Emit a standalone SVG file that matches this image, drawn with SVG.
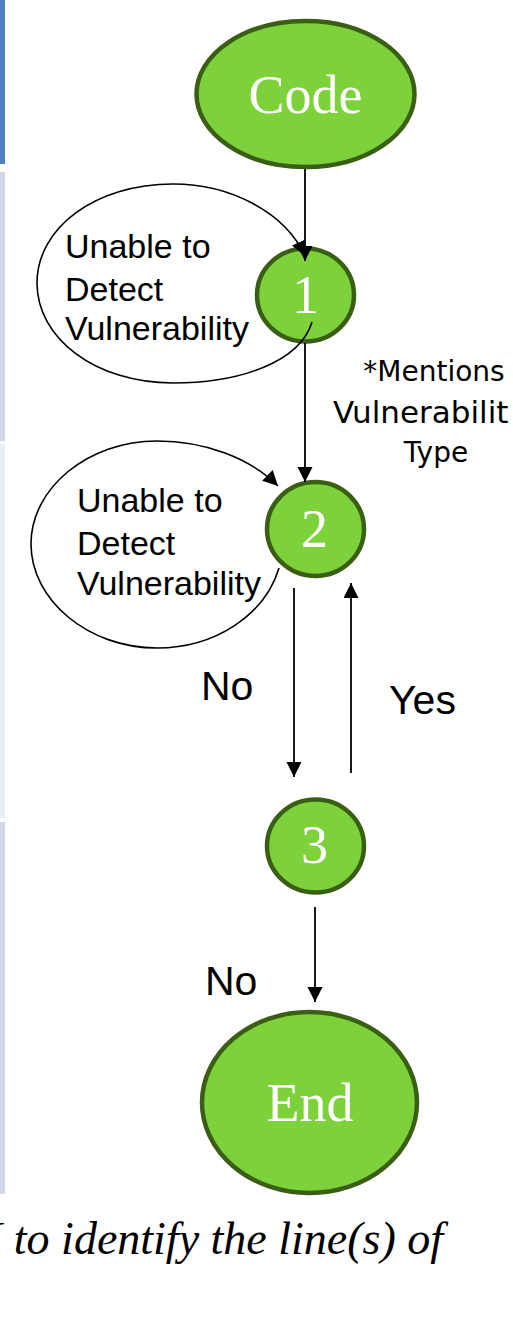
<svg xmlns="http://www.w3.org/2000/svg" width="513" height="1319" viewBox="0 0 513 1319">
<style>
.node{fill:#7dd13b;stroke:#3a5f14;stroke-width:4.5}
.nt{font-family:"Liberation Serif","Times New Roman",serif;font-size:54px;fill:#ffffff;text-anchor:middle}
.lt{font-family:"Liberation Sans",Arial,sans-serif;font-size:34px;fill:#000}
.mt{font-family:"DejaVu Sans",Verdana,sans-serif;fill:#000;text-anchor:middle}
.yn{font-family:"Liberation Sans",Arial,sans-serif;font-size:41px;fill:#000}
.edge{fill:none;stroke:#000;stroke-width:1.8}
.loop{fill:none;stroke:#000;stroke-width:1.6}
.cap{font-family:"Liberation Serif","Times New Roman",serif;font-style:italic;font-size:46px;fill:#000}
</style>
<defs>
<marker id="ah" markerUnits="userSpaceOnUse" markerWidth="16" markerHeight="16" refX="15" refY="7.5" orient="auto">
<path d="M0,0 L15,7.5 L0,15 z" fill="#000"/>
</marker>
</defs>
<g id="side-panels">
<rect x="0" y="0" width="5" height="164" fill="#4f81bd"/>
<rect x="0" y="172" width="5" height="269" fill="#d0d8e8"/>
<rect x="0" y="444" width="5" height="374" fill="#e9edf4"/>
<rect x="0" y="822" width="5" height="372" fill="#d0d8e8"/>
</g>
<g id="node-code">
<ellipse class="node" cx="305.5" cy="94" rx="109" ry="73"/>
<text class="nt" x="305.5" y="113">Code</text>
</g>
<g id="node-1">
<ellipse class="node" cx="305.5" cy="295" rx="48.5" ry="46.5"/>
<text class="nt" x="305.5" y="313">1</text>
</g>
<g id="node-2">
<ellipse class="node" cx="315.5" cy="529" rx="48.5" ry="47"/>
<text class="nt" x="314.5" y="547">2</text>
</g>
<g id="node-3">
<ellipse class="node" cx="315.5" cy="846" rx="48.5" ry="46.5"/>
<text class="nt" x="314.5" y="863">3</text>
</g>
<g id="node-end">
<ellipse class="node" cx="309.5" cy="1102.5" rx="107.5" ry="90.5"/>
<text class="nt" x="310" y="1121">End</text>
</g>
<g id="loop-1">
<text class="lt" x="65" y="258">Unable to</text>
<text class="lt" x="65" y="301">Detect</text>
<text class="lt" x="65" y="340">Vulnerability</text>
</g>
<g id="loop-2">
<text class="lt" x="77" y="512">Unable to</text>
<text class="lt" x="77" y="555">Detect</text>
<text class="lt" x="77" y="595">Vulnerability</text>
</g>
<g id="note">
<text class="mt" x="434" y="381" font-size="28">*Mentions</text>
<text class="mt" x="333" y="423" font-size="31" style="text-anchor:start">Vulnerabilit</text>
<text class="mt" x="436" y="462" font-size="28">Type</text>
</g>
<g id="labels">
<text class="yn" x="201" y="700">No</text>
<text class="yn" x="389" y="714">Yes</text>
<text class="yn" x="205" y="995">No</text>
</g>
<g id="connectors">
<line class="edge" x1="305" y1="169" x2="305" y2="261" marker-end="url(#ah)"/>
<line class="edge" x1="305" y1="343" x2="305" y2="482" marker-end="url(#ah)"/>
<line class="edge" x1="294" y1="588" x2="294" y2="777" marker-end="url(#ah)"/>
<line class="edge" x1="351" y1="773" x2="351" y2="583" marker-end="url(#ah)"/>
<line class="edge" x1="315" y1="907" x2="315" y2="1002" marker-end="url(#ah)"/>
<path class="loop" d="M312,322 C300,362 240,383 173,383 C95,383 37,338 37,283 C37,228 95,184 173,184 C230,184 285,212 305,256" marker-end="url(#ah)"/>
<path class="loop" d="M279,568 C265,615 215,648 157,648 C88,648 31,600 31,544 C31,488 88,441 157,441 C205,441 250,458 278,486" marker-end="url(#ah)"/>
</g>
<g id="caption">
<text class="cap" x="-13" y="1254">I to identify the line(s) of</text>
</g>
</svg>
